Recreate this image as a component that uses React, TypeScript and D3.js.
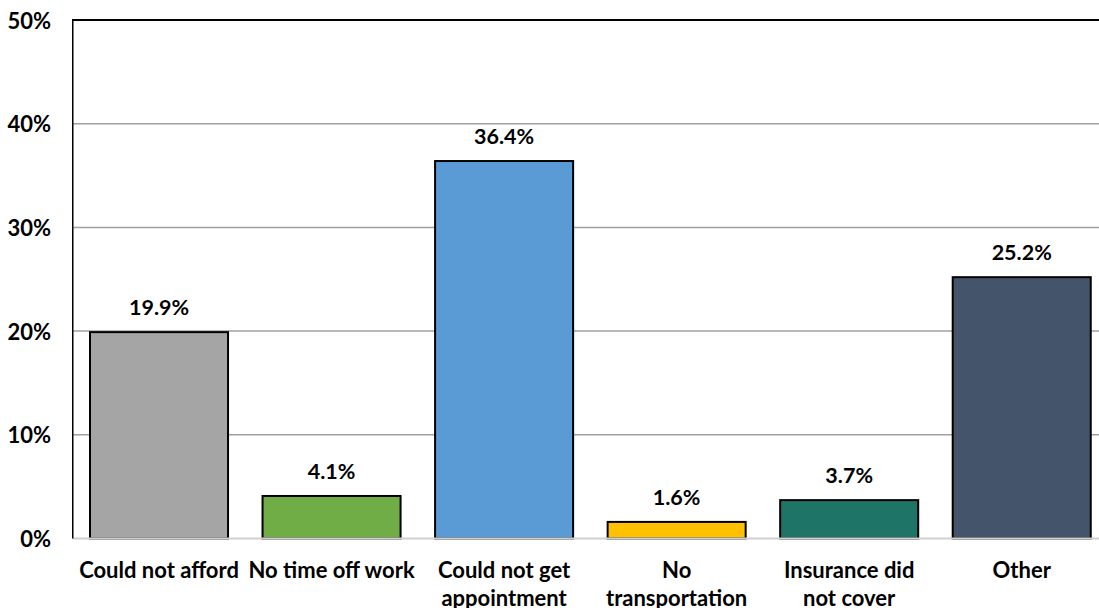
import React from "react";
import * as d3 from "d3";

const categories = [
  ["Could not afford"],
  ["No time off work"],
  ["Could not get", "appointment"],
  ["No", "transportation"],
  ["Insurance did", "not cover"],
  ["Other"],
];
const values = [19.9, 4.1, 36.4, 1.6, 3.7, 25.2];
const colors = ["#A5A5A5", "#70AD47", "#5B9BD5", "#FFC000", "#1E7567", "#44546A"];
const yTicks = [0, 10, 20, 30, 40, 50];

const W = 1099;
const H = 608;
const left = 72.75;
const right = 1108;
const top = 20;
const bottom = 538.5;
const font = "Lato, 'Open Sans', sans-serif";

export default function App() {
  const keys = categories.map((c) => c.join(" "));
  const x = d3.scaleBand<string>().domain(keys).range([left, right]).paddingInner(0.2).paddingOuter(0.1);
  const y = d3.scaleLinear().domain([0, 50]).range([bottom, top]);

  return (
    <svg
      width={W}
      height={H}
      style={{ position: "absolute", left: 0, top: 0, background: "#fff" }}
      fontFamily={font}
    >
      {/* gridlines */}
      {yTicks.slice(1, -1).map((t) => (
        <line key={t} x1={left} x2={right} y1={y(t)} y2={y(t)} stroke="#A0A0A0" strokeWidth={1.5} />
      ))}
      {/* bars */}
      {values.map((v, i) => (
        <rect
          key={keys[i]}
          x={x(keys[i])}
          y={y(v)}
          width={x.bandwidth()}
          height={y(0) - y(v)}
          fill={colors[i]}
          stroke="#000"
          strokeWidth={2}
        />
      ))}
      {/* baseline and frame */}
      <line x1={left} x2={right} y1={y(0)} y2={y(0)} stroke="#D0D0D0" strokeWidth={2} />
      <line x1={left} x2={right} y1={y(50)} y2={y(50)} stroke="#000" strokeWidth={2} />
      <line x1={left} x2={left} y1={y(50) - 1} y2={y(0)} stroke="#000" strokeWidth={1.5} />
      {/* y tick labels */}
      {yTicks.map((t) => (
        <text
          key={t}
          x={51}
          y={y(t)}
          textAnchor="end"
          dominantBaseline="central"
          fontSize={22}
          fontWeight={700}
          fill="#000"
        >
          {t}%
        </text>
      ))}
      {/* value labels */}
      {values.map((v, i) => (
        <text
          key={keys[i]}
          x={(x(keys[i]) as number) + x.bandwidth() / 2}
          y={y(v) - 25}
          textAnchor="middle"
          dominantBaseline="central"
          fontSize={21.5}
          fontWeight={700}
          fill="#000"
        >
          {v.toFixed(1)}%
        </text>
      ))}
      {/* category labels */}
      {categories.map((lines, i) => (
        <text
          key={keys[i]}
          x={(x(keys[i]) as number) + x.bandwidth() / 2}
          textAnchor="middle"
          fontSize={22}
          fontWeight={700}
          fill="#000"
        >
          {lines.map((l, j) => (
            <tspan key={j} x={(x(keys[i]) as number) + x.bandwidth() / 2} y={569 + j * 28} dominantBaseline="central">
              {l}
            </tspan>
          ))}
        </text>
      ))}
    </svg>
  );
}
